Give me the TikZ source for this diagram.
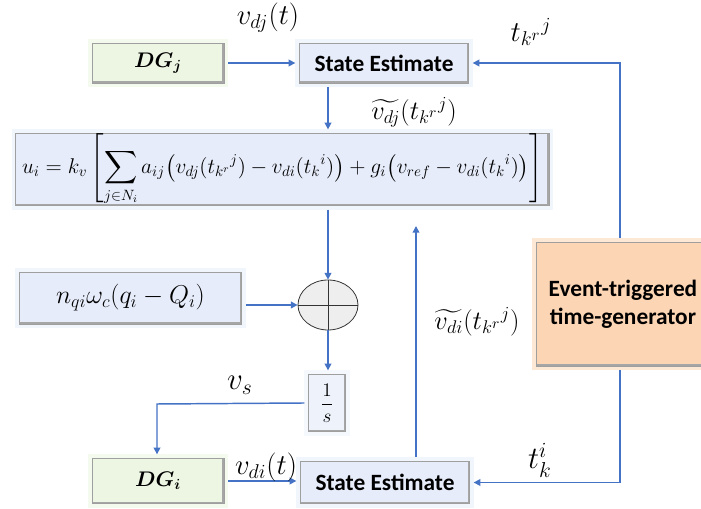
\RequirePackage{fix-cm}
\documentclass[tikz,border=0pt]{standalone}
\usepackage{amsmath}
\usepackage{bm}
\usepackage{fontspec}
\newfontfamily\boxfont{Carlito}
\usetikzlibrary{arrows.meta,shapes.geometric,calc}
\definecolor{arrowblue}{HTML}{4472C4}
\definecolor{segreen}{HTML}{EDF6E2}
\definecolor{seblue}{HTML}{E6ECFA}
\definecolor{evpeach}{HTML}{FCD5B4}
\definecolor{sumgray}{HTML}{EEEEEE}
\newcommand{\lblmath}[1]{\scalebox{1.25}{$#1$}}
\begin{document}
\begin{tikzpicture}[x=0.75pt,y=-0.75pt,
  bevel/.style={rectangle, fill=#1, draw=gray!75, line width=0.6pt, inner sep=0pt, outer sep=3pt,
    preaction={draw=#1!55!white, line width=6pt},
    path picture={\draw[gray!70, line width=3pt]
      (path picture bounding box.north east) -- (path picture bounding box.south east)
      -- (path picture bounding box.south west);}},
  arr/.style={draw=arrowblue, line width=1.1pt, -{Triangle[length=5pt,width=5pt]}},
  lbl/.style={font=\fontsize{17.28}{20}\selectfont, inner sep=0pt},
  boxtxt/.style={font=\boxfont\bfseries\fontsize{17.5}{20}\selectfont},
  dgtxt/.style={font=\fontsize{14.4}{18}\selectfont}]
\useasboundingbox (0,0) rectangle (701,509);

% blocks
\node[bevel=segreen, minimum width=99pt, minimum height=30pt, dgtxt] (DGj) at (158,63) {\scalebox{1.1}{$\bm{DG_j}$}};
\node[bevel=seblue, minimum width=127pt, minimum height=30pt, boxtxt] (SEj) at (384,63) {State Estimate};
\node[bevel=seblue, minimum width=400pt, minimum height=52pt] (eq) at (282.5,169.5)
  {\fontsize{16}{18}\selectfont $\displaystyle u_i = k_v \left[\sum_{j\in N_i} a_{ij}\bigl(v_{dj}(t_{k^r}{}^{j}) - v_{di}(t_k{}^{i})\bigr) + g_i\bigl(v_{ref} - v_{di}(t_k{}^{i})\bigr)\right]$};
\node[bevel=seblue, minimum width=167pt, minimum height=39pt, font=\fontsize{17.28}{21}\selectfont] (nq) at (130.5,298) {\scalebox{1.12}{$n_{qi}\omega_c(q_i - Q_i)$}};
\node[ellipse, fill=sumgray, draw=black!80, line width=0.6pt, minimum width=45pt, minimum height=37.5pt, inner sep=0pt] (sum) at (328,305) {};
\draw[black!80, line width=0.6pt] (sum.west) -- (sum.east) (sum.north) -- (sum.south);
\node[bevel=seblue!70!white, minimum width=28pt, minimum height=43pt, font=\fontsize{14.4}{16}\selectfont] (one) at (327,403) {$\dfrac{1}{s}$};
\node[bevel=segreen, minimum width=99pt, minimum height=34pt, dgtxt] (DGi) at (158,481) {\scalebox{1.1}{$\bm{DG_i}$}};
\node[bevel=seblue, minimum width=127pt, minimum height=32pt, boxtxt] (SEi) at (385,482.5) {State Estimate};
\node[bevel=evpeach, minimum width=130pt, minimum height=93pt, align=center, font=\boxfont\bfseries\fontsize{17.5}{21}\selectfont] (ev) at (623,304) {Event-triggered\\time-generator};

% helper coordinates
\coordinate (rx) at (620,63);
\coordinate (mx) at (328,0);
\coordinate (vs) at (157,404);
\coordinate (up) at (416,226);

% connectors
\draw[arr] (DGj.east) -- (DGj.east -| SEj.west);
\draw[arr] (ev.north -| rx) -- (rx) -- (SEj.east);
\draw[arr] (SEj.south -| mx) -- (eq.north -| mx);
\draw[arr] (eq.south -| mx) -- (sum.north);
\draw[arr] (nq.east |- sum) -- (sum.west);
\draw[arr] (sum.south) -- (sum.south |- one.north);
\draw[arr] (one.west) -- (vs) -- (vs |- DGi.north);
\draw[arr] (DGi.east) -- (DGi.east -| SEi.west);
\draw[arr] (SEi.north -| up) -- (up);
\draw[arr] (ev.south -| rx) -- (rx |- SEi.east) -- (SEi.east);

% labels
\node[lbl] (l1) at (268,18) {\lblmath{v_{dj}(t)}};
\node[lbl] (l2) at (531,32) {\lblmath{t_{k^r}{}^{j}}};
\node[lbl] (l3) at (414,112) {\scalebox{1.15}{$\widetilde{v_{dj}}(t_{k^r}{}^{j})$}};
\node[lbl] (l4) at (477,322) {\scalebox{1.15}{$\widetilde{v_{di}}(t_{k^r}{}^{j})$}};
\node[lbl] (l5) at (240,385) {\scalebox{1.35}{$v_s$}};
\node[lbl] (l6) at (266,467) {\lblmath{v_{di}(t)}};
\node[lbl] (l7) at (540,460) {\scalebox{1.35}{$t_k^i$}};
\end{tikzpicture}
\end{document}
